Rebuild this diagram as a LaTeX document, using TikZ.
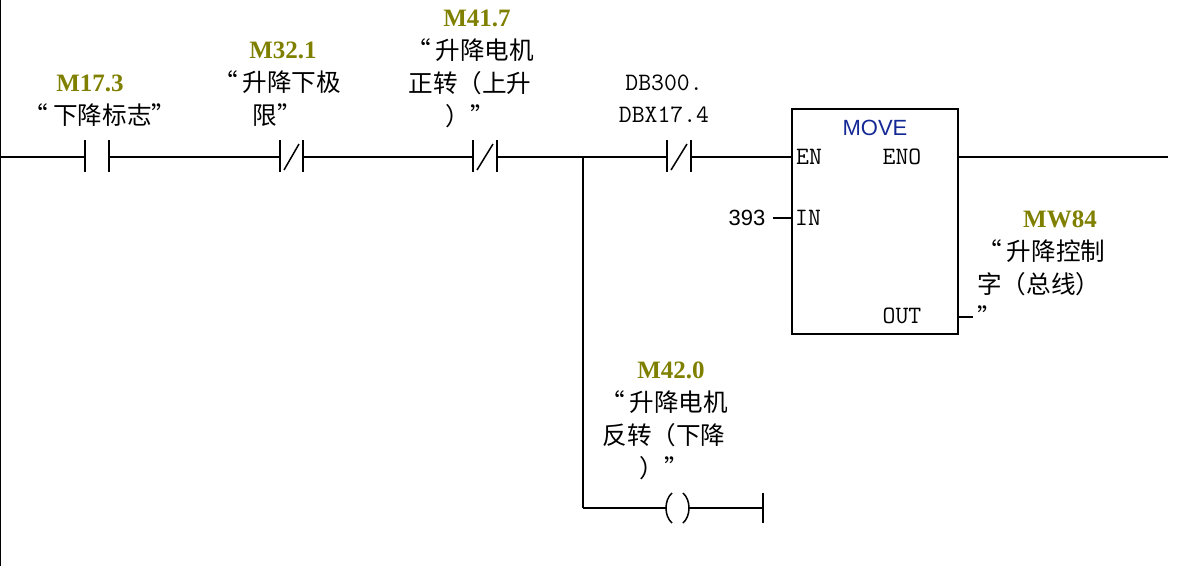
\documentclass[tikz,border=0pt]{standalone}
\usepackage{fontspec}
\setsansfont{Liberation Sans}
\newfontfamily\cjk{Noto Sans CJK SC}
\newfontfamily\addrfont{Liberation Serif}
\newcommand\oquote{“\hspace{5pt}}
\definecolor{addr}{RGB}{128,128,0}
\definecolor{boxname}{RGB}{20,40,150}
\tikzset{
  wire/.style={line width=2pt},
  addrlabel/.style={font=\addrfont\bfseries\fontsize{25}{26}\selectfont, text=addr, inner sep=0pt},
  symlabel/.style={font=\cjk\fontsize{24.6}{33}\selectfont, align=center, inner sep=0pt},
  pinlabel/.style={font=\ttfamily\fontsize{25}{26}\selectfont, inner sep=0pt},
}
\begin{document}
\begin{tikzpicture}[x=1pt,y=-1pt]
  \useasboundingbox (0,0) rectangle (1186,566);
  % terminals
  \coordinate (rail) at (1,157);
  \coordinate (c1l) at (85,157);  \coordinate (c1r) at (109,157);
  \coordinate (c2l) at (280,157); \coordinate (c2r) at (303,157);
  \coordinate (c3l) at (473,157); \coordinate (c3r) at (497,157);
  \coordinate (c4l) at (667,157); \coordinate (c4r) at (691,157);
  \coordinate (br) at (583,157);  \coordinate (brlow) at (583,508);
  \coordinate (k1l) at (666,508); \coordinate (k1r) at (689,508);
  \coordinate (kend) at (763,508);
  \coordinate (en) at (791,157);  \coordinate (eno) at (957,157);
  \coordinate (in) at (791,218);  \coordinate (out) at (957,317);
  \coordinate (outend) at (973,317);
  \coordinate (rungend) at (1168,157);
  % labels
  \draw
    (90,83) node[addrlabel] (a1){M17.3}
    (100,115) node[symlabel] (s1){\oquote 下降标志”}
    (283,50) node[addrlabel] (a2){M32.1}
    (277,99) node[symlabel] (s2){\oquote 升降下极\\限”}
    (477,18) node[addrlabel] (a3){M41.7}
    (470,83) node[symlabel] (s3){\oquote 升降电机\\正转（上升\\）”}
    (664,99) node[pinlabel, align=center, font=\ttfamily\fontsize{25}{32}\selectfont] (a4){DB300.\\DBX17.4}
    (671,370) node[addrlabel] (a5){M42.0}
    (664,435) node[symlabel] (s5){\oquote 升降电机\\反转（下降\\）”}
    (1060,219) node[addrlabel] (a6){MW84}
    (977,283) node[symlabel, align=left, anchor=west] (s6){\oquote 升降控制\\字（总线）\\”};
  % move box
  \node[draw, line width=2pt, minimum width=166, minimum height=225, anchor=north west, inner sep=0pt] (mv) at (791,108) {};
  \draw
    (875,128) node[font=\sffamily\fontsize{22}{24}\selectfont, text=boxname, inner sep=0pt] (mvname){MOVE}
    (809,157) node[pinlabel] (pen){EN}
    (902,157) node[pinlabel] (peno){ENO}
    (808,218) node[pinlabel] (pin){IN}
    (902,316) node[pinlabel] (pout){OUT}
    (747,218) node[font=\sffamily\fontsize{22}{24}\selectfont, inner sep=0pt] (v393){393};
  % wires
  \begin{scope}[wire]
    \draw (0,0) -- (0,566);
    \draw (rail) -- (c1l);
    \draw (c1r) -- (c2l);
    \draw (c2r) -- (c3l);
    \draw (c3r) -- (c4l);
    \draw (c4r) -- (en);
    \draw (eno) -- (rungend);
    \draw (br) -- (brlow);
    \draw (brlow) -- (k1l);
    \draw (k1r) -- (kend);
    \draw (kend) ++(0,-15) -- ++(0,30);
    \foreach \c in {c1l,c1r,c2l,c2r,c3l,c3r,c4l,c4r}
      \draw (\c) ++(0,-17) -- ++(0,32);
  \end{scope}
  \begin{scope}[line width=1.5pt]
    \draw (c2l) ++(4,13) -- ++(15,-26);
    \draw (c3l) ++(4,13) -- ++(16,-26);
    \draw (c4l) ++(4,13) -- ++(16,-26);
    \draw (672,493) .. controls (664,500) and (664,516) .. (672,523);
    \draw (683,493) .. controls (691,500) and (691,516) .. (683,523);
    \draw ([xshift=7pt]v393.east) -- (in);
    \draw (out) -- (outend);
  \end{scope}
\end{tikzpicture}
\end{document}
